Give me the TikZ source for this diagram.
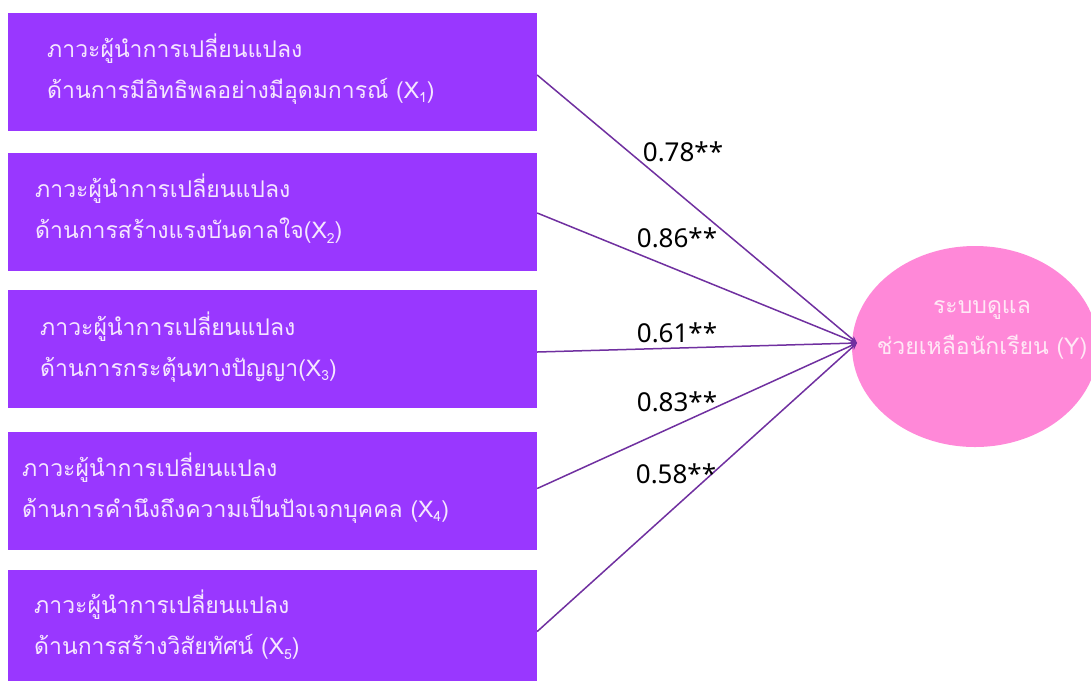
\documentclass[tikz,border=0pt]{standalone}
\usepackage{fontspec}
\setmainfont{Noto Sans}
\newfontfamily\thaifont[Script=Thai]{Loma}
\newfontfamily\numfont{Noto Sans}
\usetikzlibrary{arrows.meta,shapes.geometric}
\definecolor{boxfill}{RGB}{153,55,255}
\definecolor{boxtext}{RGB}{245,230,255}
\definecolor{ellfill}{RGB}{255,136,216}
\definecolor{elltext}{RGB}{255,232,246}
\definecolor{linecol}{RGB}{112,48,160}
\newcommand{\xsub}[1]{\raisebox{-0.2em}{\fontsize{14}{14}\selectfont #1}}
\tikzset{
  box/.style={rectangle, fill=boxfill, draw=none, minimum width=529pt, minimum height=118pt, inner sep=0pt},
  boxlabel/.style={anchor=west, align=left, text=boxtext, font=\thaifont\fontsize{23}{41}\selectfont, inner sep=0pt},
  elllabel/.style={align=center, text=elltext, font=\thaifont\fontsize{23}{41}\selectfont, inner sep=0pt},
  conn/.style={draw=linecol, line width=1.5pt, -{Stealth[length=7pt,width=6pt]}},
  coef/.style={font=\numfont\fontsize{26}{26}\selectfont, text=black, inner sep=0pt}
}
\begin{document}
\begin{tikzpicture}[x=1pt,y=-1pt]
\useasboundingbox (0,0) rectangle (1091,681);
\fill[white] (0,0) rectangle (1091,681);
% boxes
\node[box] (b1) at (272.5,71.5) {};
\node[box] (b2) at (272.5,212) {};
\node[box] (b3) at (272.5,349) {};
\node[box] (b4) at (272.5,491) {};
\node[box, minimum height=111pt] (b5) at (272.5,625.5) {};
% box texts
\node[boxlabel] (t1) at (47,69) {ภาวะผู้นำการเปลี่ยนแปลง\\ด้านการมีอิทธิพลอย่างมีอุดมการณ์ (X\xsub{1})};
\node[boxlabel] (t2) at (35,209) {ภาวะผู้นำการเปลี่ยนแปลง\\ด้านการสร้างแรงบันดาลใจ(X\xsub{2})};
\node[boxlabel] (t3) at (40,347) {ภาวะผู้นำการเปลี่ยนแปลง\\ด้านการกระตุ้นทางปัญญา(X\xsub{3})};
\node[boxlabel] (t4) at (22,488) {ภาวะผู้นำการเปลี่ยนแปลง\\ด้านการคำนึงถึงความเป็นปัจเจกบุคคล (X\xsub{4})};
\node[boxlabel] (t5) at (34,625) {ภาวะผู้นำการเปลี่ยนแปลง\\ด้านการสร้างวิสัยทัศน์ (X\xsub{5})};
% ellipse
\fill[ellfill] (975,346.5) ellipse [x radius=123, y radius=100.5];
\node[ellipse, minimum width=246pt, minimum height=201pt, inner sep=0pt] (Y) at (975,346.5) {};
\node[elllabel] (ty) at (982,330) {ระบบดูแล\\ช่วยเหลือนักเรียน (Y)};
\coordinate (tip) at (857,343);
% connectors
\draw[conn] ([yshift=-3.5pt]b1.east) -- (tip);
\draw[conn] ([yshift=-1pt]b2.east) -- (tip);
\draw[conn] ([yshift=-3pt]b3.east) -- (tip);
\draw[conn] ([yshift=2.5pt]b4.east) -- (tip);
\draw[conn] ([yshift=-6pt]b5.east) -- (tip);
% coefficients
\node[coef] (c1) at (683,152) {0.78**};
\node[coef] (c2) at (677,238) {0.86**};
\node[coef] (c3) at (677,333) {0.61**};
\node[coef] (c4) at (677,402) {0.83**};
\node[coef] (c5) at (676,474) {0.58**};
\end{tikzpicture}
\end{document}
